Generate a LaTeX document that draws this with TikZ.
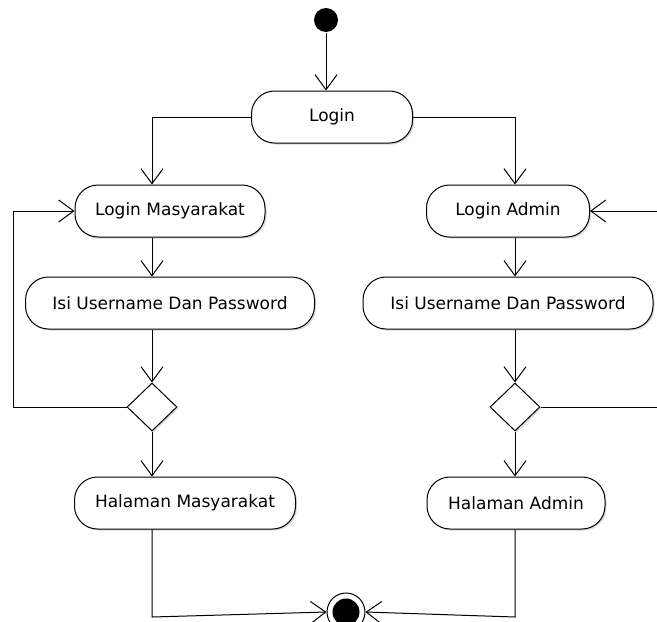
\documentclass[tikz,border=0pt]{standalone}
\usepackage{fontspec}
\setmainfont{DejaVu Sans}
\usetikzlibrary{arrows.meta,shapes.geometric,shadows}
\begin{document}
\begin{tikzpicture}[x=1pt,y=-1pt,
  line width=1pt,
  act/.style={draw, fill=white, rounded corners=23pt, minimum height=52pt, inner sep=0pt,
    font=\fontsize{17}{20}\selectfont,
    drop shadow={shadow xshift=1.5pt, shadow yshift=-1.5pt, fill=black!30}},
  dec/.style={draw, fill=white, diamond, minimum width=50pt, minimum height=48pt, inner sep=0pt,
    drop shadow={shadow xshift=1.5pt, shadow yshift=-1.5pt, fill=black!30}},
  arr/.style={-{Straight Barb[length=15pt, width=22pt, line width=1pt]}}]
\useasboundingbox (0,0) rectangle (657,622);
\fill[white] (0,0) rectangle (657,622);
% nodes
\node[circle, fill=black, minimum size=24pt, inner sep=0pt] (start) at (326,20) {};
\node[act, minimum width=161pt] (login) at (332,117) {Login};
\node[act, minimum width=190pt] (lm) at (170,211) {Login Masyarakat};
\node[act, minimum width=163pt] (la) at (508,211) {Login Admin};
\node[act, minimum width=289pt] (il) at (170,303) {Isi Username Dan Password};
\node[act, minimum width=290pt] (ia) at (508,303) {Isi Username Dan Password};
\node[dec] (dl) at (152,407) {};
\node[dec] (da) at (515,407) {};
\node[act, minimum width=221pt] (hm) at (185,503) {Halaman Masyarakat};
\node[act, minimum width=178pt] (ha) at (516,503) {Halaman Admin};
\node[circle, draw, fill=white, minimum size=38pt, inner sep=0pt] (fin) at (346,612) {};
\node[circle, fill=black, minimum size=27pt, inner sep=0pt] at (fin.center) {};
% helper coordinates
\coordinate (lx) at (152,0);
\coordinate (rx) at (515,0);
\coordinate (lloop) at (13,0);
\coordinate (redge) at (657,0);
\coordinate (bl) at (152,617);
\coordinate (br) at (515,617);
% connectors
\draw[arr] (start) -- (start |- login.north);
\draw[arr] (login.west) -| (lm.north -| lx);
\draw[arr] (login.east) -| (la.north -| rx);
\draw[arr] (lm.south -| lx) -- (il.north -| lx);
\draw[arr] (la.south -| rx) -- (ia.north -| rx);
\draw[arr] (il.south -| lx) -- (dl.north);
\draw[arr] (ia.south -| rx) -- (da.north);
\draw[arr] (dl.south) -- (hm.north -| lx);
\draw[arr] (da.south) -- (ha.north -| rx);
\draw[arr] (dl.west) -- (dl.west -| lloop) |- (lm.west);
\draw (da.east) -- (da.east -| redge);
\draw[arr] (la.east -| redge) -- (la.east);
\draw[arr] (hm.south -| bl) -- (bl) -- (fin.west);
\draw[arr] (ha.south -| br) -- (br) -- (fin.east);
\end{tikzpicture}
\end{document}
